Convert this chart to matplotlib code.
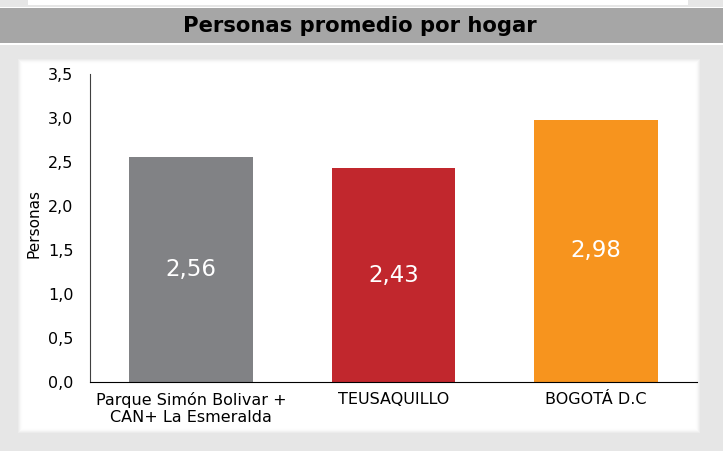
import matplotlib
matplotlib.use("Agg")
import matplotlib.pyplot as plt
from matplotlib.patches import Rectangle
from matplotlib.ticker import FuncFormatter

categories = ["Parque Simón Bolivar +\nCAN+ La Esmeralda", "TEUSAQUILLO", "BOGOTÁ D.C"]
values = [2.56, 2.43, 2.98]
colors = ["#818285", "#c1272d", "#f7941e"]
yticks = [0.0, 0.5, 1.0, 1.5, 2.0, 2.5, 3.0, 3.5]
title = "Personas promedio por hogar"
ylabel = "Personas"

W, H = 723, 451
fig = plt.figure(figsize=(W / 100, H / 100), dpi=100)
fig.patch.set_facecolor("white")

def px(x0, y0, x1, y1):
    return (x0 / W, 1 - y1 / H, (x1 - x0) / W, (y1 - y0) / H)

def rect(x0, y0, x1, y1, color, alpha=1.0, z=-10):
    l, b, w, h = px(x0, y0, x1, y1)
    fig.patches.append(Rectangle((l, b), w, h, transform=fig.transFigure,
                                 facecolor=color, edgecolor="none", alpha=alpha, zorder=z))

# top strip
rect(0, 0, W, 7, "#e6e6e6")
rect(28, 0, 688, 5, "white")
# title band
rect(0, 8, W, 43, "#a6a6a6")
# background
rect(0, 45, W, H, "#e6e6e6")
# soft shadow panel
for i, a in enumerate([0.25, 0.35, 0.5, 0.7, 0.9]):
    d = 5 - i
    rect(23 - d, 64 - d, 695 + d, 428 + d, "white", alpha=a)
rect(23, 64, 695, 428, "white")

fig.text(360 / W, 1 - 26.5 / H, title, ha="center", va="center",
         fontsize=15.2, fontweight="bold", color="black")

ax = fig.add_axes(px(90, 74, 697, 382))
ax.set_facecolor("none")
x = list(range(len(categories)))
bars = ax.bar(x, values, width=0.61, color=colors, zorder=2)
for xi, v in zip(x, values):
    ax.text(xi, v / 2, f"{v:.2f}".replace(".", ","), ha="center", va="center",
            color="white", fontsize=16.5)
ax.set_xlim(-0.5, 2.5)
ax.set_ylim(0, 3.5)
ax.set_yticks(yticks)
ax.yaxis.set_major_formatter(FuncFormatter(lambda v, p: f"{v:.1f}".replace(".", ",")))
ax.set_xticks(x)
ax.set_xticklabels(categories, fontsize=11.5)
ax.tick_params(axis="both", length=0, labelsize=11.5, colors="black")
ax.tick_params(axis="y", pad=12)
ax.tick_params(axis="x", pad=7)
for s in ["top", "right"]:
    ax.spines[s].set_visible(False)
ax.spines["left"].set_color("#404040")
ax.spines["bottom"].set_color("black")
ax.set_ylabel(ylabel, fontsize=11)
ax.yaxis.set_label_coords(-49 / 607, 0.516)

fig.savefig("out.png", dpi=100)
